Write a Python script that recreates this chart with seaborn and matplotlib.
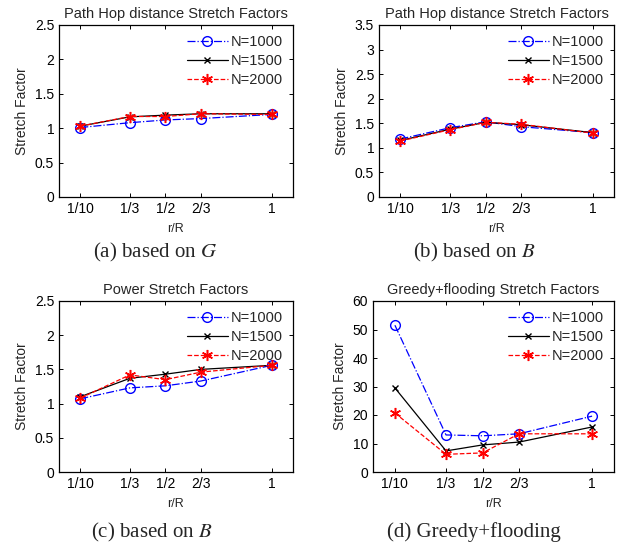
import numpy as np
import pandas as pd
import matplotlib
matplotlib.use("Agg")
import matplotlib.pyplot as plt
import seaborn as sns
from matplotlib.ticker import FuncFormatter

sns.set_style("ticks")
plt.rcParams['font.family'] = ['Liberation Sans', 'DejaVu Sans']
plt.rcParams['mathtext.fontset'] = 'stix'

# x positions (r/R) and tick labels
ratios = [0.1, 1 / 3, 0.5, 2 / 3, 1.0]
ratio_labels = ['1/10', '1/3', '1/2', '2/3', '1']
series_names = ['N=1000', 'N=1500', 'N=2000']

# (a) path hop distance, based on G
hop_g_1000 = [1.01, 1.08, 1.12, 1.14, 1.20]
hop_g_1500 = [1.03, 1.165, 1.19, 1.21, 1.21]
hop_g_2000 = [1.03, 1.17, 1.17, 1.21, 1.20]

# (b) path hop distance, based on B
hop_b_1000 = [1.18, 1.41, 1.53, 1.43, 1.31]
hop_b_1500 = [1.15, 1.38, 1.52, 1.47, 1.31]
hop_b_2000 = [1.14, 1.37, 1.52, 1.48, 1.30]

# (c) power, based on B
pow_b_1000 = [1.07, 1.23, 1.26, 1.33, 1.56]
pow_b_1500 = [1.10, 1.37, 1.43, 1.50, 1.56]
pow_b_2000 = [1.08, 1.42, 1.35, 1.46, 1.56]

# (d) greedy+flooding
greedy_1000 = [51.5, 13.0, 12.7, 13.4, 19.6]
greedy_1500 = [29.5, 7.4, 9.5, 10.5, 15.8]
greedy_2000 = [20.7, 6.2, 6.7, 13.4, 13.4]

panels = [
    ('Path Hop distance Stretch Factors', [hop_g_1000, hop_g_1500, hop_g_2000],
     2.5, 0.5, '(a) based on $G$'),
    ('Path Hop distance Stretch Factors', [hop_b_1000, hop_b_1500, hop_b_2000],
     3.5, 0.5, '(b) based on $B$'),
    ('Power Stretch Factors', [pow_b_1000, pow_b_1500, pow_b_2000],
     2.5, 0.5, '(c) based on $B$'),
    ('Greedy+flooding Stretch Factors', [greedy_1000, greedy_1500, greedy_2000],
     60, 10, '(d) Greedy+flooding'),
]

# axes boxes in pixels: left, top, right, bottom
boxes = [(59, 25, 293, 197), (379, 25, 614, 197),
         (59, 301, 293, 472), (373, 301, 614, 472)]
caption_pos = [(155, 252), (474, 252), (152, 532), (474, 532)]

# matlab-like asterisk marker for N=2000
asterisk = (6, 2, 0)

styles = [dict(color='blue', linestyle='-.', marker='o', markersize=7,
               markerfacecolor='none', markeredgecolor='blue', markeredgewidth=1),
          dict(color='black', linestyle='-', marker='x', markersize=5,
               markeredgecolor='black', markeredgewidth=1),
          dict(color='red', linestyle='--', marker=asterisk, markersize=8,
               markeredgecolor='red', markeredgewidth=1.1)]

W, H = 624, 545
fig = plt.figure(figsize=(W / 100, H / 100), dpi=100)
fmt = FuncFormatter(lambda v, p: '%g' % v)

for (title, series, ymax, ystep, caption), box, cpos in zip(panels, boxes, caption_pos):
    l, t, r, b = box
    ax = fig.add_axes([l / W, 1 - b / H, (r - l) / W, (b - t) / H])
    for name, vals, st in zip(series_names, series, styles):
        df = pd.DataFrame({'ratio': ratios, 'value': vals})
        sns.lineplot(data=df, x='ratio', y='value', ax=ax, label=name,
                     linewidth=0.9, **st)
    ax.set_xlim(0.0, 1.1)
    ax.set_ylim(0, ymax)
    ax.set_xticks(ratios)
    ax.set_xticklabels(ratio_labels)
    ax.set_yticks(np.arange(0, ymax + ystep / 2, ystep))
    ax.yaxis.set_major_formatter(fmt)
    ax.tick_params(direction='in', top=True, right=True, labelsize=10,
                   length=3, width=0.7, colors='black')
    for sp in ax.spines.values():
        sp.set_visible(True)
        sp.set_linewidth(0.9)
        sp.set_color('black')
    ax.set_xlabel('r/R', fontsize=9, labelpad=5)
    ax.set_ylabel('Stretch Factor', fontsize=10, labelpad=4)
    ax.set_title(title, fontsize=10.5, pad=5)
    ax.legend(loc='upper right', frameon=False, fontsize=10.5, handlelength=2.8,
              handletextpad=0.2, labelspacing=0.35, borderaxespad=0.3)
    fig.text(cpos[0] / W, 1 - cpos[1] / H, caption, ha='center', va='center',
             fontsize=15, family=['Liberation Serif', 'DejaVu Serif'])

fig.savefig('out.png', dpi=100)
